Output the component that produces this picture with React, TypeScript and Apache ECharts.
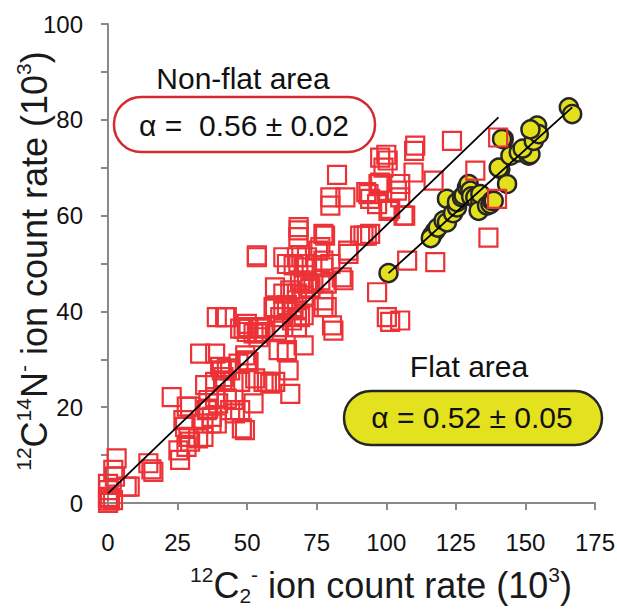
import React, { useEffect, useRef } from "react";
import * as echarts from "echarts";

// ---- data ----
// Non-flat area: 12C2- (x, 10^3) vs 12C14N- (y, 10^3)
const nonFlatX = [
  0, 0.7, 0, 0.1, 0, 2.5, 1.9, 3.1, 6.7, 7.8, 0.5, 1.8,
  14.5, 16.3, 15.6,
  25.3, 25.9, 27.1, 27.7, 28.9, 29.5, 34.3, 32.4, 28.2,
  22.9, 29.5, 28.3, 35.5, 37.3, 39.1, 34.3, 43.9, 48.1, 49.2, 45.6, 39.6, 36, 37.2, 47.5, 52.3,
  33.1, 38.5, 40.3, 43.9, 46.9, 49.9, 41.5, 45.1, 47.5, 52.9, 57.1, 58.3, 65.5, 34.9, 38.5, 42.1, 36.1, 38.5, 42.7, 45.1, 40.9, 42.7, 49.3, 50.5, 55.9, 60.1, 64.3, 64.9, 61.3,
  42.7, 48.7, 49.9, 53.5, 60.7, 63, 67.9, 70.3, 64.3, 42.1, 47.5, 50.5, 52.3, 54.1, 54.7, 55.9, 39.1, 49.9, 54.7,
  59.5, 63, 67.9, 70.3, 77.4, 78.6, 81, 80.5, 64.3, 67.9, 70.3, 61.9, 66.1, 69, 60, 66.7, 77.4,
  60, 63, 65.5, 67.9, 70.3, 72.7, 76.3, 78.6, 84, 69, 71.5, 73.8, 72.7, 96.7, 100.2, 105, 101.4, 84.6,
  53.5, 64.3, 66.7, 70.3, 77.4, 79.9, 86.4, 68.4, 71.5, 53.5, 76.3, 75.5, 86.3, 63, 67.9, 71.5, 77.4,
  68.5, 68.4, 77.4, 78, 90.6, 93, 94.2, 91.8, 68.5, 107.5, 117.6, 136.7,
  79.9, 79.9, 85.3, 93.6, 92.8, 94.2, 96.7, 100.8, 101.4, 106.2, 106.8, 105, 103.8, 105, 97.2, 97.8,
  109.8, 117, 132, 139.8, 82.3, 99, 97.8, 100, 100.5, 110.4, 110, 123.6, 140.2,
];
const nonFlatY = [
  0, 1, 1.3, 2.7, 4, 5.5, 6.9, 9.3, 3.4, 3.4, 0.5, 0.6,
  8.3, 6.5, 7,
  11, 9, 17.3, 15.9, 13.8, 12.8, 13.8, 13.5, 11.7,
  22.1, 20.1, 20.1, 19.4, 18, 16.6, 16.6, 19.4, 15.6, 15.2, 18.7, 20.8, 19.7, 16.6, 19.4, 20.8,
  31.2, 31.2, 28.4, 27.7, 29.1, 29.8, 26.3, 25.3, 25.3, 26, 25.3, 24.9, 22.8, 24.6, 25.3, 25.6, 21.5, 22.1, 21.8, 21.5, 27.7, 28.1, 30.8, 29.4, 25.3, 25.3, 31.5, 27.7, 31.9,
  38.8, 36.4, 35.7, 35.4, 36, 36.7, 36.7, 32.9, 31.9, 38.8, 36.4, 36.7, 35.4, 34.6, 36.7, 35.7, 38.8, 37.4, 36.4,
  40.9, 40.2, 40.2, 39.2, 42.3, 40.9, 36, 37.1, 41.3, 42.3, 43.3, 38.8, 38.1, 38.8, 40.6, 40.9, 40.9,
  45, 43.7, 44.4, 43.7, 45.8, 45, 46.5, 45.8, 47.1, 46.5, 46.1, 45.8, 44.7, 44, 38.8, 38.1, 37.8, 46.5,
  51.3, 49.9, 49.6, 49.2, 49.2, 49.9, 52, 49.9, 49.9, 51.7, 53.4, 52.7, 52.7, 51.3, 51.3, 51.3, 50.6,
  57.6, 55.5, 56.2, 55.8, 55.8, 55.8, 56.2, 55.8, 56.9, 50.6, 50.3, 55.4,
  62.1, 63.8, 63.8, 64.5, 64.9, 63.5, 62.4, 61, 61.4, 60, 60, 63.8, 65.2, 66.6, 66.6, 66.9,
  69, 67.3, 69.4, 63.5, 68.5, 70, 72.1, 72.7, 71.5, 74.6, 73.5, 75.6, 76.3,
];

// Flat area
const flatX = [
  100.8, 116.4, 117.6, 116, 118.5, 120.6, 121.8, 121.8, 124, 125.4, 125.4, 127.2, 127.8,
  129, 129.6, 130.2, 130.5, 132, 133.8, 133.2, 133.8, 136.2, 137.4, 138, 138.6,
  141, 143.4, 140.4, 144.6, 147.6, 151.2, 151.8, 149, 142.2, 141.6, 153, 154.2, 154.8, 151.8,
  165.6, 166.8,
];
const flatY = [
  48, 55.8, 56.8, 55.3, 57.5, 59, 58.6, 63.5, 60.5, 61.7, 62.8, 63.8, 64.2,
  65.9, 66.6, 65.2, 64, 63.8, 62.8, 61, 64.5, 62.1, 62.4, 63.1, 63.1,
  69.7, 66.6, 70, 72.5, 73.2, 72.5, 72.8, 74, 76, 76, 75.6, 78.8, 77, 78,
  82.6, 81.2,
];

// fitted lines (end points)
const fitNonFlatX = [0, 140.3];
const fitNonFlatY = [2, 80.5];
const fitFlatX = [100.8, 166.8];
const fitFlatY = [48, 82.6];

const X_MIN = 0, X_MAX = 175, X_STEP = 25;
const Y_MIN = 0, Y_MAX = 100, Y_STEP = 10, Y_LABEL_STEP = 20;

const xTitle = "{sup|12}{big|C}{sub|2}{sup|-}{big| ion count rate (10}{sup|3}{big|)}";
const yTitle = "{sup|12}{big|C}{sup|14}{big|N}{sup|-}{big| ion count rate (10}{sup|3}{big|)}";
const nonFlatLabel = "Non-flat area";
const nonFlatAlpha = "α =  0.56 ± 0.02";
const flatLabel = "Flat area";
const flatAlpha = "α = 0.52 ± 0.05";

const FONT = "'Liberation Sans', Arial, Helvetica, sans-serif";

const zip = (xs: number[], ys: number[]) => xs.map((x, i) => [x, ys[i]]);

export default function App() {
  const ref = useRef<HTMLDivElement>(null);

  useEffect(() => {
    if (!ref.current) return;
    const chart = echarts.init(ref.current, null, { renderer: "svg" });

    const titleRich = {
      big: { fontSize: 36, fontFamily: FONT, fill: "#1a1a1a", color: "#1a1a1a", lineHeight: 42 },
      sup: { fontSize: 21, fontFamily: FONT, fill: "#1a1a1a", color: "#1a1a1a", verticalAlign: "top", lineHeight: 21 },
      sub: { fontSize: 21, fontFamily: FONT, fill: "#1a1a1a", color: "#1a1a1a", verticalAlign: "bottom", lineHeight: 21 },
    };

    const axisLine = { show: true, lineStyle: { color: "#8a8a8a", width: 2 } };
    const axisTick = { show: true, inside: false, length: 7, lineStyle: { color: "#8a8a8a", width: 2 } };

    const centered = {
      align: "center",
      verticalAlign: "middle",
      textAlign: "center",
      textVerticalAlign: "middle",
    };

    chart.setOption({
      animation: false,
      backgroundColor: "#ffffff",
      grid: {
        left: 108,
        right: 22,
        top: 24,
        bottom: 112,
        containLabel: false,
        outerBoundsMode: "none",
      },
      xAxis: {
        type: "value",
        min: X_MIN,
        max: X_MAX,
        interval: X_STEP,
        splitLine: { show: false },
        axisLine,
        axisTick,
        axisLabel: { fontSize: 24, fontFamily: FONT, color: "#111", margin: 27 },
      },
      yAxis: {
        type: "value",
        min: Y_MIN,
        max: Y_MAX,
        interval: Y_STEP,
        splitLine: { show: false },
        axisLine,
        axisTick,
        axisLabel: {
          fontSize: 24,
          fontFamily: FONT,
          color: "#111",
          margin: 25,
          formatter: (v: number) => (v % Y_LABEL_STEP === 0 ? String(v) : ""),
        },
      },
      series: [
        {
          type: "scatter",
          name: "Flat area",
          data: zip(flatX, flatY),
          symbol: "circle",
          symbolSize: 18,
          clip: false,
          itemStyle: { color: "#e3e01d", borderColor: "#262626", borderWidth: 2.5, opacity: 1 },
          z: 2,
        },
        {
          type: "scatter",
          name: "Non-flat area",
          data: zip(nonFlatX, nonFlatY),
          symbol: "rect",
          symbolSize: 18,
          clip: false,
          itemStyle: { color: "rgba(0,0,0,0)", borderColor: "#ec3237", borderWidth: 2.2, opacity: 1 },
          z: 3,
        },
        {
          type: "line",
          data: zip(fitNonFlatX, fitNonFlatY),
          showSymbol: false,
          symbol: "none",
          lineStyle: { color: "#000", width: 1.8 },
          z: 4,
        },
        {
          type: "line",
          data: zip(fitFlatX, fitFlatY),
          showSymbol: false,
          symbol: "none",
          lineStyle: { color: "#000", width: 1.8 },
          z: 4,
        },
      ],
      graphic: [
        {
          type: "text",
          x: 381,
          y: 585,
          style: { text: xTitle, rich: titleRich, ...centered },
          z: 10,
        },
        {
          type: "text",
          x: 34,
          y: 261,
          rotation: Math.PI / 2,
          style: { text: yTitle, rich: titleRich, ...centered },
          z: 10,
        },
        {
          type: "text",
          x: 243,
          y: 78,
          style: { text: nonFlatLabel, fontSize: 30, fontFamily: FONT, fill: "#111", ...centered },
          z: 10,
        },
        {
          type: "rect",
          shape: { x: 114, y: 97, width: 261, height: 55, r: 27 },
          style: { fill: "#ffffff", stroke: "#d52a2f", lineWidth: 2.5 },
          z: 10,
        },
        {
          type: "text",
          x: 244,
          y: 125,
          style: { text: nonFlatAlpha, fontSize: 30, fontFamily: FONT, fill: "#111", ...centered },
          z: 11,
        },
        {
          type: "text",
          x: 469,
          y: 366,
          style: { text: flatLabel, fontSize: 30, fontFamily: FONT, fill: "#111", ...centered },
          z: 10,
        },
        {
          type: "rect",
          shape: { x: 344, y: 391, width: 258, height: 54, r: 27 },
          style: { fill: "#e4e21f", stroke: "#262626", lineWidth: 2.5 },
          z: 10,
        },
        {
          type: "text",
          x: 472,
          y: 417,
          style: { text: flatAlpha, fontSize: 30, fontFamily: FONT, fill: "#111", ...centered },
          z: 11,
        },
      ],
    });

    return () => chart.dispose();
  }, []);

  return (
    <div
      ref={ref}
      style={{ position: "fixed", left: 0, top: 0, width: 617, height: 615, background: "#fff" }}
    />
  );
}
